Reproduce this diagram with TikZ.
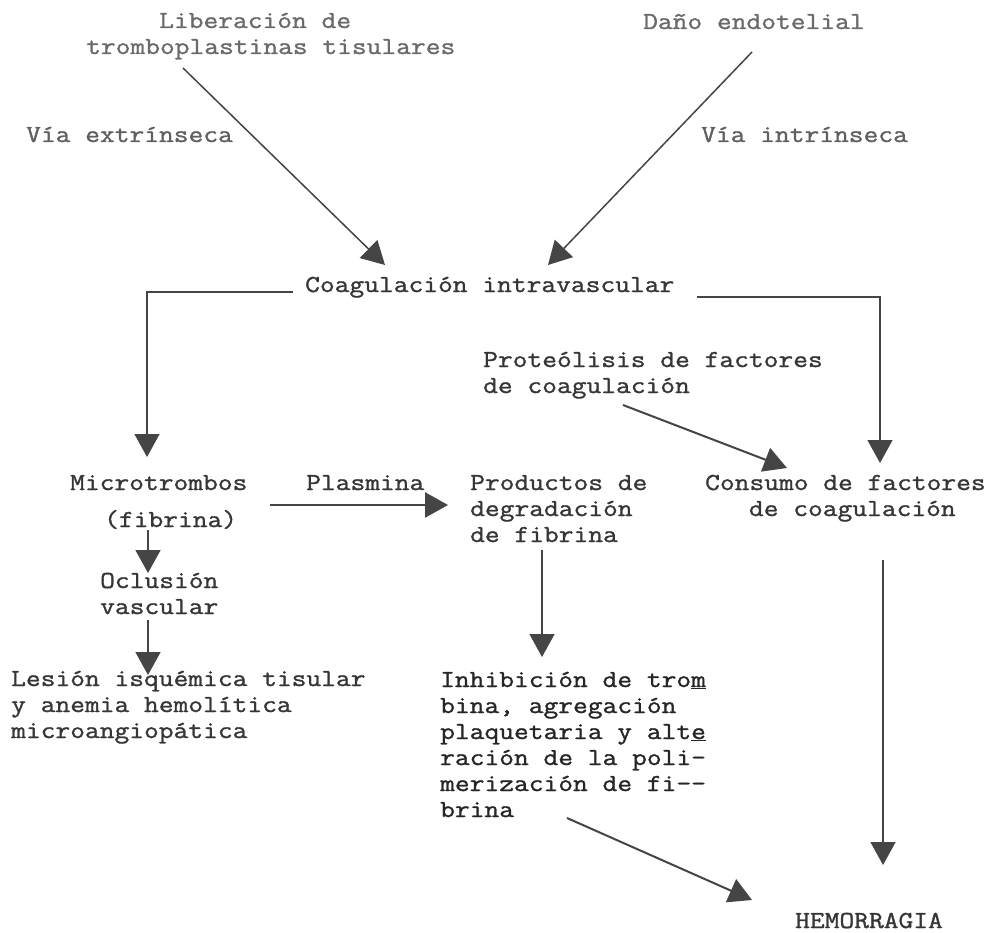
\documentclass[tikz,border=0pt]{standalone}
\usepackage{fontspec}
\setmonofont{Latin Modern Mono}[FakeStretch=1.175, UprightFeatures={FakeBold=1.2}]
\usetikzlibrary{arrows.meta}
\definecolor{ink}{HTML}{363636}
\definecolor{inkl}{HTML}{6A6A6A}
\definecolor{arrc}{HTML}{454545}
\newcommand\Ln[1]{\hbox{#1}}
\tikzset{
  txt/.style={anchor=base west, inner sep=0pt, text=ink, font=\ttfamily\fontsize{24.4}{26}\selectfont},
  ltxt/.style={txt, text=inkl},
  conn/.style={draw=arrc, line width=1.5pt, -{Triangle[width=25pt,length=23pt]}},
  thick conn/.style={conn, line width=2.6pt}
}
\begin{document}
\begin{tikzpicture}[x=1pt,y=-1pt]
\fill[white] (0,0) rectangle (990,933);
\useasboundingbox (0,0) rectangle (990,933);

% nodes
\node[ltxt] (trombo) at (86,28) {\vtop{\Ln{\hspace*{73pt}Liberación de}\Ln{tromboplastinas tisulares}}};
\node[ltxt] (dano) at (643,29) {Daño endotelial};
\node[txt, text=inkl!80!ink] (extr) at (26,142) {Vía extrínseca};
\node[txt, text=inkl!80!ink] (intr) at (701,142) {Vía intrínseca};
\node[txt] (coag) at (305,292) {Coagulación intravascular};
\node[txt] (prot) at (483,367) {\vtop{\Ln{Proteólisis de factores}\Ln{de coagulación}}};
\node[txt] (micro) at (70,490) {\vtop{\Ln{Microtrombos}\kern11pt\Ln{\hspace*{34pt}(fibrina)}}};
\node[txt] (plasm) at (306,490) {Plasmina};
\node[txt] (prod) at (470,490) {\vtop{\Ln{Productos de}\Ln{degradación}\Ln{de fibrina}}};
\node[txt] (cons) at (705,490) {\vtop{\Ln{Consumo de factores}\Ln{\hspace*{43.8pt}de coagulación}}};
\node[txt] (ocl) at (100,588) {\vtop{\Ln{Oclusión}\Ln{vascular}}};
\node[txt] (les) at (11,686) {\vtop{\Ln{Lesión isquémica tisular}\Ln{y anemia hemolítica}\Ln{microangiopática}}};
\node[txt, text=black!85] (inhib) at (440,687) {\vtop{\Ln{Inhibición de tro\underline{m}}\Ln{bina, agregación}\Ln{plaquetaria y alt\underline{e}}\Ln{ración de la poli-}\Ln{merización de fi-{}-}\Ln{brina}}};
\node[txt] (hemo) at (795,928) {HEMORRAGIA};

% connectors
\draw[conn] ([shift={(97,40)}]trombo.base west) -- ([shift={(80,-27)}]coag.base west);
\draw[conn] ([shift={(109,23)}]dano.base west) -- ([shift={(243,-27)}]coag.base west);
\draw[conn, line width=1.4pt] ([shift={(-12,0)}]coag.base west) -- ++(-146,0) -- ([shift={(77,-33)}]micro.base west);
\draw[conn, line width=1.4pt] ([shift={(392,5)}]coag.base west) -- ++(183,0) -- ([shift={(175,-27)}]cons.base west);
\draw[conn, line width=2pt] ([shift={(140,38)}]prot.base west) -- ([shift={(82,-22)}]cons.base west);
\draw[thick conn] ([shift={(200,15)}]micro.base west) -- ([shift={(-22,15)}]prod.base west);
\draw[conn] ([shift={(78,40)}]micro.base west) -- ([shift={(48,-15)}]ocl.base west);
\draw[conn] ([shift={(48,32)}]ocl.base west) -- ([shift={(137,-11)}]les.base west);
\draw[conn] ([shift={(72,60)}]prod.base west) -- ([shift={(102,-30)}]inhib.base west);
\draw[conn] ([shift={(178,70)}]cons.base west) -- ([shift={(88,-63)}]hemo.base west);
\draw[conn, line width=2pt] ([shift={(127,131)}]inhib.base west) -- ([shift={(-43,-28)}]hemo.base west);
\end{tikzpicture}
\end{document}
